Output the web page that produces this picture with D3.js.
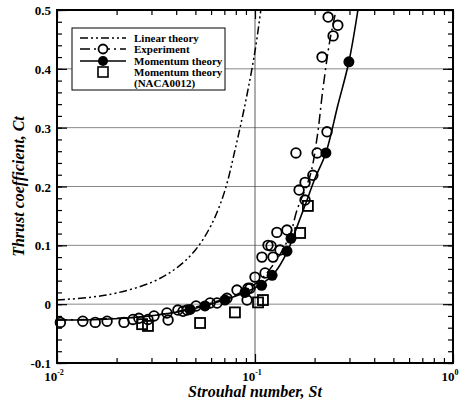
<!DOCTYPE html>
<html>
<head>
<meta charset="utf-8">
<script src="https://d3js.org/d3.v7.min.js"></script>
<style>
  body { margin: 0; background: #fff; }
  text { font-family: "Liberation Serif", "DejaVu Serif", serif; font-weight: bold; }
</style>
</head>
<body>
<script>
//Global sizes
var W = 465;
var H = 399;
var Left = 57;
var Right = 453;
var Top = 10;
var Bottom = 363;

//Data (St, Ct)
var linearSt = [0.010, 0.015, 0.020, 0.030, 0.040, 0.050, 0.060, 0.070, 0.080, 0.090, 0.100, 0.107];
var linearCt = [0.007, 0.012, 0.019, 0.037, 0.061, 0.092, 0.134, 0.190, 0.268, 0.347, 0.430, 0.500];

var expLineSt = [0.010, 0.0295, 0.0528, 0.084, 0.106, 0.126, 0.150, 0.163, 0.190, 0.206, 0.220, 0.239, 0.257];
var expLineCt = [-0.027, -0.020, -0.003, 0.019, 0.041, 0.071, 0.117, 0.160, 0.219, 0.284, 0.364, 0.449, 0.500];

var expSt = [0.0104, 0.0135, 0.0156, 0.0179, 0.0218, 0.0242, 0.0259, 0.0288, 0.0309, 0.0359, 0.0364,
             0.0408, 0.0433, 0.0454, 0.0504, 0.0593, 0.0643, 0.0722, 0.0811, 0.0912, 0.0922, 0.0944,
             0.100, 0.1084, 0.1124, 0.1163, 0.1205, 0.1233, 0.1337, 0.129, 0.145, 0.161, 0.167, 0.179,
             0.179, 0.196, 0.206, 0.231, 0.218, 0.248, 0.262, 0.234];
var expCt = [-0.031, -0.029, -0.031, -0.029, -0.031, -0.026, -0.024, -0.026, -0.020, -0.015, -0.027,
             -0.010, -0.012, -0.010, -0.003, 0.002, 0.002, 0.010, 0.024, 0.007, 0.027, 0.027,
             0.046, 0.080, 0.053, 0.100, 0.099, 0.080, 0.092, 0.122, 0.126, 0.257, 0.194, 0.177,
             0.207, 0.219, 0.257, 0.293, 0.420, 0.456, 0.474, 0.488];

var momLineSt = [0.010, 0.0165, 0.0295, 0.047, 0.0666, 0.089, 0.108, 0.126, 0.145, 0.159, 0.179, 0.201, 0.228, 0.262, 0.298, 0.331];
var momLineCt = [-0.027, -0.026, -0.020, -0.009, 0.005, 0.020, 0.034, 0.054, 0.088, 0.122, 0.168, 0.214, 0.257, 0.338, 0.412, 0.500];

var momSt = [0.047, 0.0559, 0.0705, 0.089, 0.108, 0.122, 0.145, 0.152, 0.228, 0.298];
var momCt = [-0.009, -0.003, 0.007, 0.020, 0.032, 0.049, 0.090, 0.112, 0.257, 0.412];

var nacaSt = [0.0269, 0.0288, 0.0528, 0.0792, 0.1036, 0.1097, 0.169, 0.185];
var nacaCt = [-0.034, -0.037, -0.032, -0.014, 0.003, 0.007, 0.121, 0.167];

var yTicks = [-0.1, 0, 0.1, 0.2, 0.3, 0.4, 0.5];
var yTickLabels = ["-0.1", "0", "0.1", "0.2", "0.3", "0.4", "0.5"];
var xTicks = [0.01, 0.1, 1];
var xTickExps = ["-2", "-1", "0"];

var legendNames = ["Linear theory", "Experiment", "Momentum theory", "Momentum theory", "(NACA0012)"];

function zip(a, b) {
  return a.map(function(d, i) { return [d, b[i]]; });
}

function main() {
  var svg = d3.select("body")
    .append("svg")
    .attr("width", W)
    .attr("height", H);

  var xScale = d3.scaleLog().domain([0.01, 1]).range([Left, Right]);
  var yScale = d3.scaleLinear().domain([-0.1, 0.5]).range([Bottom, Top]);

  //Horizontal grid lines
  svg.selectAll(".hgrid")
    .data(yTicks.slice(1, -1))
    .enter()
    .append("line")
    .attr("x1", Left).attr("x2", Right)
    .attr("y1", function(d) { return yScale(d); })
    .attr("y2", function(d) { return yScale(d); })
    .attr("stroke", "#888")
    .attr("stroke-width", 1);

  //Vertical grid line at 10^-1
  svg.append("line")
    .attr("x1", xScale(0.1)).attr("x2", xScale(0.1))
    .attr("y1", Top).attr("y2", Bottom)
    .attr("stroke", "#333")
    .attr("stroke-width", 0.8);

  //Axes with inward ticks
  var minorX = [];
  [0.01, 0.1].forEach(function(b) {
    for (var k = 2; k <= 9; k++) minorX.push(b * k);
  });
  var minorY = d3.range(-0.1, 0.5001, 0.02);

  var xBottom = d3.axisBottom(xScale).tickValues(minorX).tickSize(-5).tickFormat("");
  var xTop = d3.axisTop(xScale).tickValues(minorX).tickSize(-5).tickFormat("");
  var xBottomMaj = d3.axisBottom(xScale).tickValues(xTicks).tickSize(-9).tickFormat("");
  var xTopMaj = d3.axisTop(xScale).tickValues(xTicks).tickSize(-9).tickFormat("");
  var yLeft = d3.axisLeft(yScale).tickValues(minorY).tickSize(-5).tickFormat("");
  var yRight = d3.axisRight(yScale).tickValues(minorY).tickSize(-5).tickFormat("");
  var yLeftMaj = d3.axisLeft(yScale).tickValues(yTicks).tickSize(-10).tickFormat("");
  var yRightMaj = d3.axisRight(yScale).tickValues(yTicks).tickSize(-10).tickFormat("");

  [[xBottom, 0, Bottom], [xTop, 0, Top], [xBottomMaj, 0, Bottom], [xTopMaj, 0, Top],
   [yLeft, Left, 0], [yRight, Right, 0], [yLeftMaj, Left, 0], [yRightMaj, Right, 0]].forEach(function(a) {
    var g = svg.append("g")
      .attr("transform", "translate(" + a[1] + "," + a[2] + ")")
      .call(a[0]);
    g.select(".domain").remove();
    g.selectAll("line").attr("stroke", "#000").attr("stroke-width", 1.2);
  });

  //Frame
  svg.append("rect")
    .attr("x", Left).attr("y", Top)
    .attr("width", Right - Left).attr("height", Bottom - Top)
    .attr("fill", "none")
    .attr("stroke", "#000")
    .attr("stroke-width", 2);

  //Tick labels
  svg.selectAll(".ylab")
    .data(yTicks)
    .enter()
    .append("text")
    .attr("x", Left - 6)
    .attr("y", function(d) { return yScale(d) + 5; })
    .attr("text-anchor", "end")
    .attr("font-size", "13px")
    .text(function(d, i) { return yTickLabels[i]; });

  var xl = svg.selectAll(".xlab")
    .data(xTicks)
    .enter()
    .append("text")
    .attr("x", function(d) { return xScale(d) - 3; })
    .attr("y", Bottom + 18)
    .attr("text-anchor", "middle")
    .attr("font-size", "13px");
  xl.append("tspan").text("10");
  xl.append("tspan")
    .attr("font-size", "8px")
    .attr("dy", -6)
    .text(function(d, i) { return xTickExps[i]; });

  //Axis titles
  svg.append("text")
    .attr("x", (Left + Right) / 2)
    .attr("y", 397)
    .attr("text-anchor", "middle")
    .attr("font-size", "16px")
    .attr("font-style", "italic")
    .text("Strouhal number, St");

  svg.append("text")
    .attr("transform", "translate(24," + ((Top + Bottom) / 2) + ") rotate(-90)")
    .attr("text-anchor", "middle")
    .attr("font-size", "16px")
    .attr("font-style", "italic")
    .text("Thrust coefficient, Ct");

  //Curves
  var plot = svg.append("g");
  var line = d3.line()
    .x(function(d) { return xScale(d[0]); })
    .y(function(d) { return yScale(d[1]); })
    .curve(d3.curveCatmullRom);

  plot.append("path")
    .datum(zip(linearSt, linearCt))
    .attr("d", line)
    .attr("fill", "none")
    .attr("stroke", "#000")
    .attr("stroke-width", 1.5)
    .attr("stroke-dasharray", "8,3,2,3,2,3");

  plot.append("path")
    .datum(zip(expLineSt, expLineCt))
    .attr("d", line)
    .attr("fill", "none")
    .attr("stroke", "#000")
    .attr("stroke-width", 1.5)
    .attr("stroke-dasharray", "10,4,2,4");

  plot.append("path")
    .datum(zip(momLineSt, momLineCt))
    .attr("d", line)
    .attr("fill", "none")
    .attr("stroke", "#000")
    .attr("stroke-width", 1.6);

  //Markers
  plot.selectAll(".exp")
    .data(zip(expSt, expCt))
    .enter()
    .append("circle")
    .attr("cx", function(d) { return xScale(d[0]); })
    .attr("cy", function(d) { return yScale(d[1]); })
    .attr("r", 4.8)
    .attr("fill", "none")
    .attr("stroke", "#000")
    .attr("stroke-width", 1.8);

  plot.selectAll(".naca")
    .data(zip(nacaSt, nacaCt))
    .enter()
    .append("rect")
    .attr("x", function(d) { return xScale(d[0]) - 5; })
    .attr("y", function(d) { return yScale(d[1]) - 5; })
    .attr("width", 10)
    .attr("height", 10)
    .attr("fill", "none")
    .attr("stroke", "#000")
    .attr("stroke-width", 1.8);

  plot.selectAll(".mom")
    .data(zip(momSt, momCt))
    .enter()
    .append("circle")
    .attr("cx", function(d) { return xScale(d[0]); })
    .attr("cy", function(d) { return yScale(d[1]); })
    .attr("r", 5.5)
    .attr("fill", "#000");

  legend(svg);
}

function legend(svg) {
  var lx = 72, ly = 28;
  svg.append("rect")
    .attr("x", lx).attr("y", ly)
    .attr("width", 153).attr("height", 62)
    .attr("fill", "#fff")
    .attr("stroke", "#000")
    .attr("stroke-width", 1);

  var rows = [38, 49, 61, 72, 83];
  svg.selectAll(".legtext")
    .data(legendNames)
    .enter()
    .append("text")
    .attr("x", 134)
    .attr("y", function(d, i) { return rows[i] + 4; })
    .attr("font-size", "11px")
    .text(function(d) { return d; });

  var dashes = ["8,3,2,3,2,3", "10,4,2,4", null];
  dashes.forEach(function(ds, i) {
    var l = svg.append("line")
      .attr("x1", 80).attr("x2", 126)
      .attr("y1", rows[i]).attr("y2", rows[i])
      .attr("stroke", "#000")
      .attr("stroke-width", 1.5);
    if (ds) l.attr("stroke-dasharray", ds);
  });
  svg.append("circle")
    .attr("cx", 103).attr("cy", rows[1]).attr("r", 4.5)
    .attr("fill", "#fff").attr("stroke", "#000").attr("stroke-width", 1.8);
  svg.append("circle")
    .attr("cx", 103).attr("cy", rows[2]).attr("r", 5)
    .attr("fill", "#000");
  svg.append("rect")
    .attr("x", 98).attr("y", rows[3] - 5)
    .attr("width", 10).attr("height", 10)
    .attr("fill", "none").attr("stroke", "#000").attr("stroke-width", 1.6);
}

main();
</script>
</body>
</html>
